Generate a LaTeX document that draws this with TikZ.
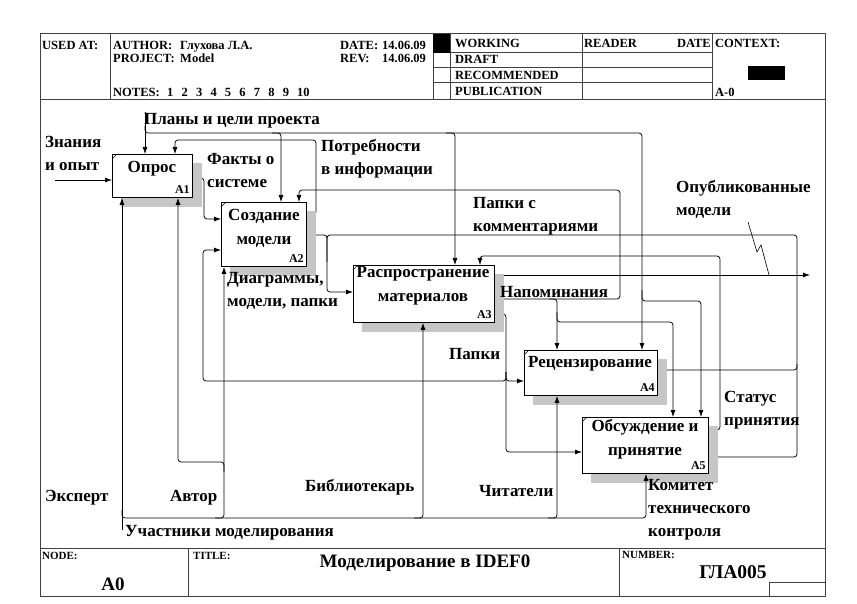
\documentclass[tikz,border=0pt]{standalone}
\usepackage{fontspec}
\setmainfont{Liberation Serif}
\usetikzlibrary{arrows.meta,calc}
\pgfdeclarelayer{back}
\pgfdeclarelayer{shade}
\pgfsetlayers{back,shade,main}

\newcommand\boxshadow[1]{%
  \begin{pgfonlayer}{shade}
    \fill[gray!45] ($(#1.north west)+(9,9)$) rectangle ($(#1.south east)+(9,9)$);
  \end{pgfonlayer}
  \draw[line width=0.6pt] ($(#1.north west)+(0,5)$) -- ($(#1.north west)+(5,0)$);
}

\begin{document}
\begin{tikzpicture}[x=1pt,y=-1pt,
  frame/.style={draw=black!75, line width=1pt},
  conn/.style={line width=0.75pt, rounded corners=3pt},
  arr/.style={conn, -{Latex[length=7pt,width=5pt]}},
  fbox/.style={draw, line width=0.9pt, fill=white, inner sep=0pt, anchor=north west},
  bname/.style={font=\fontsize{17}{24}\selectfont\bfseries, align=center, inner sep=0pt},
  bnum/.style={font=\fontsize{12}{14}\selectfont\bfseries, inner sep=0pt, anchor=base east},
  lbl/.style={font=\fontsize{17}{23}\selectfont\bfseries, align=left, inner sep=0pt, anchor=west},
  hdr/.style={font=\fontsize{12.5}{14}\selectfont\bfseries, inner sep=0pt, anchor=base west},
  small/.style={font=\fontsize{11}{12}\selectfont\bfseries, inner sep=0pt, anchor=base west},
]
\useasboundingbox (0,0) rectangle (857,604);

% ---------- form frame ----------
\draw[frame] (40,34) rectangle (825,596);
\draw[frame] (40,100) -- (825,100);
\draw[frame] (40,548) -- (825,548);
\draw[frame] (110,34) -- (110,100);
\draw[frame] (433,34) -- (433,100);
\draw[frame] (450,34) -- (450,100);
\draw[frame] (582,34) -- (582,100);
\draw[frame] (712,34) -- (712,100);
\draw[frame] (433,53) -- (712,53);
\draw[frame] (433,68) -- (712,68);
\draw[frame] (433,83) -- (712,83);
\fill (433,34) rectangle (450,53);
\fill (748,66) rectangle (785,80);
\draw[frame] (188,548) -- (188,596);
\draw[frame] (619,548) -- (619,596);
\draw[frame] (769,596) -- (769,582) -- (825,582);

% ---------- header texts ----------
\node[hdr] (usedat) at (42,50) {USED AT:};
\node[hdr] (author) at (113,50) {AUTHOR:};
\node[hdr] (authorname) at (180,50) {Глухова Л.А.};
\node[hdr] (date) at (340,50) {DATE:};
\node[hdr] (dateval) at (382,50) {14.06.09};
\node[hdr] (project) at (113,63) {PROJECT:};
\node[hdr] (projname) at (180,63) {Model};
\node[hdr] (rev) at (340,63) {REV:};
\node[hdr] (revval) at (382,63) {14.06.09};
\node[hdr] (notes) at (113,97) {NOTES:};
\node[hdr] (notenums) at (167,97) {1\hspace{8.2pt}2\hspace{8.2pt}3\hspace{8.2pt}4\hspace{8.2pt}5\hspace{8.2pt}6\hspace{8.2pt}7\hspace{8.2pt}8\hspace{8.2pt}9\hspace{8.2pt}10};
\node[hdr] (working) at (455,48) {WORKING};
\node[hdr] (draft) at (455,64) {DRAFT};
\node[hdr] (recommended) at (455,80) {RECOMMENDED};
\node[hdr] (publication) at (455,96) {PUBLICATION};
\node[hdr] (reader) at (584,48) {READER};
\node[hdr, anchor=base east] (readerdate) at (711,48) {DATE};
\node[hdr] (context) at (715,48) {CONTEXT:};
\node[hdr] (contextnode) at (715,97) {A-0};

% ---------- footer texts ----------
\node[small] (nodelbl) at (42,559) {NODE:};
\node[font=\fontsize{19}{20}\selectfont\bfseries, inner sep=0pt, anchor=base] (nodeval) at (113,590) {A0};
\node[small] (titlelbl) at (193,559) {TITLE:};
\node[font=\fontsize{19}{20}\selectfont\bfseries, inner sep=0pt, anchor=base] (title) at (425,567) {Моделирование в IDEF0};
\node[small] (numberlbl) at (622,558) {NUMBER:};
\node[font=\fontsize{19.5}{20}\selectfont\bfseries, inner sep=0pt, anchor=base] (numberval) at (733,578) {ГЛА005};

% ---------- function boxes ----------
\node[fbox, minimum width=80pt, minimum height=43pt] (A1) at (112,154) {};
\node[fbox, minimum width=85pt, minimum height=64pt] (A2) at (221,202) {};
\node[fbox, minimum width=141pt, minimum height=57pt] (A3) at (353,265) {};
\node[fbox, minimum width=133pt, minimum height=45pt] (A4) at (524,350) {};
\node[fbox, minimum width=126pt, minimum height=56pt] (A5) at (582,417) {};
\boxshadow{A1}\boxshadow{A2}\boxshadow{A3}\boxshadow{A4}\boxshadow{A5}

\node[bname] (A1name) at (152,169) {Опрос};
\node[bname] (A2name) at (264,228) {Создание\\модели};
\node[bname] (A3name) at (423,286) {Распространение\\материалов};
\node[bname] (A4name) at (590,364) {Рецензирование};
\node[bname] (A5name) at (645,439) {Обсуждение и\\принятие};
\node[bnum] (A1num) at ($(A1.south east)+(-3,-4)$) {A1};
\node[bnum] (A2num) at ($(A2.south east)+(-3,-4)$) {A2};
\node[bnum] (A3num) at ($(A3.south east)+(-3,-4)$) {A3};
\node[bnum] (A4num) at ($(A4.south east)+(-3,-4)$) {A4};
\node[bnum] (A5num) at ($(A5.south east)+(-3,-4)$) {A5};

% ---------- boundary input ----------
\coordinate (inK) at (55,180);
\draw[arr] (inK) -- (A1.west |- 0,180);

% ---------- project plans (controls) ----------
\coordinate (ctlP) at (145,112);
\draw[arr] (ctlP) -- (A1.north -| 145,0);
\draw[arr] (145,126) -- (145,133) -- (642,133) -- (A4.north -| 642,0);
\draw[arr] (272,133) -- (281,133) -- (A2.north -| 281,0);
\draw[arr] (446,133) -- (455,133) -- (A3.north -| 455,0);
\draw[arr] (642,290) -- (642,301) -- (701,301) -- (A5.north -| 701,0);

% ---------- outputs and feedback ----------
\begin{pgfonlayer}{back}
% A1 -> A2
\draw[arr] (A1.east |- 0,178) -- (204,178) -- (204,219) -- (A2.west |- 0,219);
% A2 -> A1 control
\draw[arr] (A2.east |- 0,215) -- (316,215) -- (316,140) -- (175,140) -- (A1.north -| 175,0);
% A2 -> A3
\draw[conn] (A2.east |- 0,235) -- (327,235) -- (327,262);
% A4 -> A3
\draw[arr] (A4.east |- 0,370) -- (797,370) -- (797,235) -- (327,235) -- (327,292) -- (A3.west |- 0,292);
% A5 -> A3
\draw[conn] (A5.east |- 0,457) -- (797,457) -- (797,364);
% A5 -> A3 control
\draw[arr] (A5.east |- 0,430) -- (720,430) -- (720,256) -- (480,256) -- (A3.north -| 480,0);
% A3 -> boundary
\coordinate (outM) at (810,275);
\draw[arr] (A3.east |- 0,275) -- (outM);
% A3 reminders
\draw[arr] (A3.east |- 0,299) -- (620,299) -- (620,190) -- (299,190) -- (A2.north -| 299,0);
\draw[arr] (549,299) -- (557,299) -- (A4.north -| 557,0);
\draw[arr] (557,312) -- (557,322) -- (673,322) -- (A5.north -| 673,0);
% A3 folders
\draw[arr] (A3.east |- 0,314) -- (506,314) -- (506,452) -- (A5.west |- 0,452);
\draw[arr] (506,372) -- (506,381) -- (A4.west |- 0,381);
\draw[arr] (506,372) -- (506,381) -- (203,381) -- (203,250) -- (A2.west |- 0,250);
\end{pgfonlayer}

% leader of the published-models label
\draw[line width=0.6pt] (748,222) -- (757,252) -- (761,245) -- (769,275);

% ---------- mechanisms ----------
\coordinate (mechE) at (122,530);
\draw[arr] (mechE) -- (A1.south -| 122,0);
\draw[arr] (122,510) -- (122,518) -- (646,518) -- (A5.south -| 646,0);
\draw[arr] (215,518) -- (224,518) -- (A2.south -| 224,0);
\draw[arr] (224,472) -- (224,462) -- (178,462) -- (A1.south -| 178,0);
\draw[arr] (414,518) -- (423,518) -- (A3.south -| 423,0);
\draw[arr] (548,518) -- (557,518) -- (A4.south -| 557,0);

% ---------- arrow labels ----------
\node[lbl] (tKnow) at (45,153) {Знания\\и опыт};
\node[lbl] (tPlans) at (144,121) {Планы и цели проекта};
\node[lbl] (tFacts) at (207,171) {Факты о\\системе};
\node[lbl] (tNeeds) at (321,159) {Потребности\\в информации};
\node[lbl] (tComm) at (473,216) {Папки с\\комментариями};
\node[lbl] (tPub) at (676,199) {Опубликованные\\модели};
\node[lbl] (tDiag) at (227,291) {Диаграммы,\\модели, папки};
\node[lbl] (tRemind) at (500,292) {Напоминания};
\node[lbl] (tFold) at (449,354) {Папки};
\node[lbl] (tStatus) at (724,410) {Статус\\принятия};
\node[lbl] (tExpert) at (45,498) {Эксперт};
\node[lbl] (tAuthor) at (170,498) {Автор};
\node[lbl] (tLib) at (305,487) {Библиотекарь};
\node[lbl] (tRead) at (479,491) {Читатели};
\node[lbl] (tCom) at (648,510) {Комитет\\технического\\контроля};
\node[lbl] (tPart) at (125,533) {Участники моделирования};
\end{tikzpicture}
\end{document}
